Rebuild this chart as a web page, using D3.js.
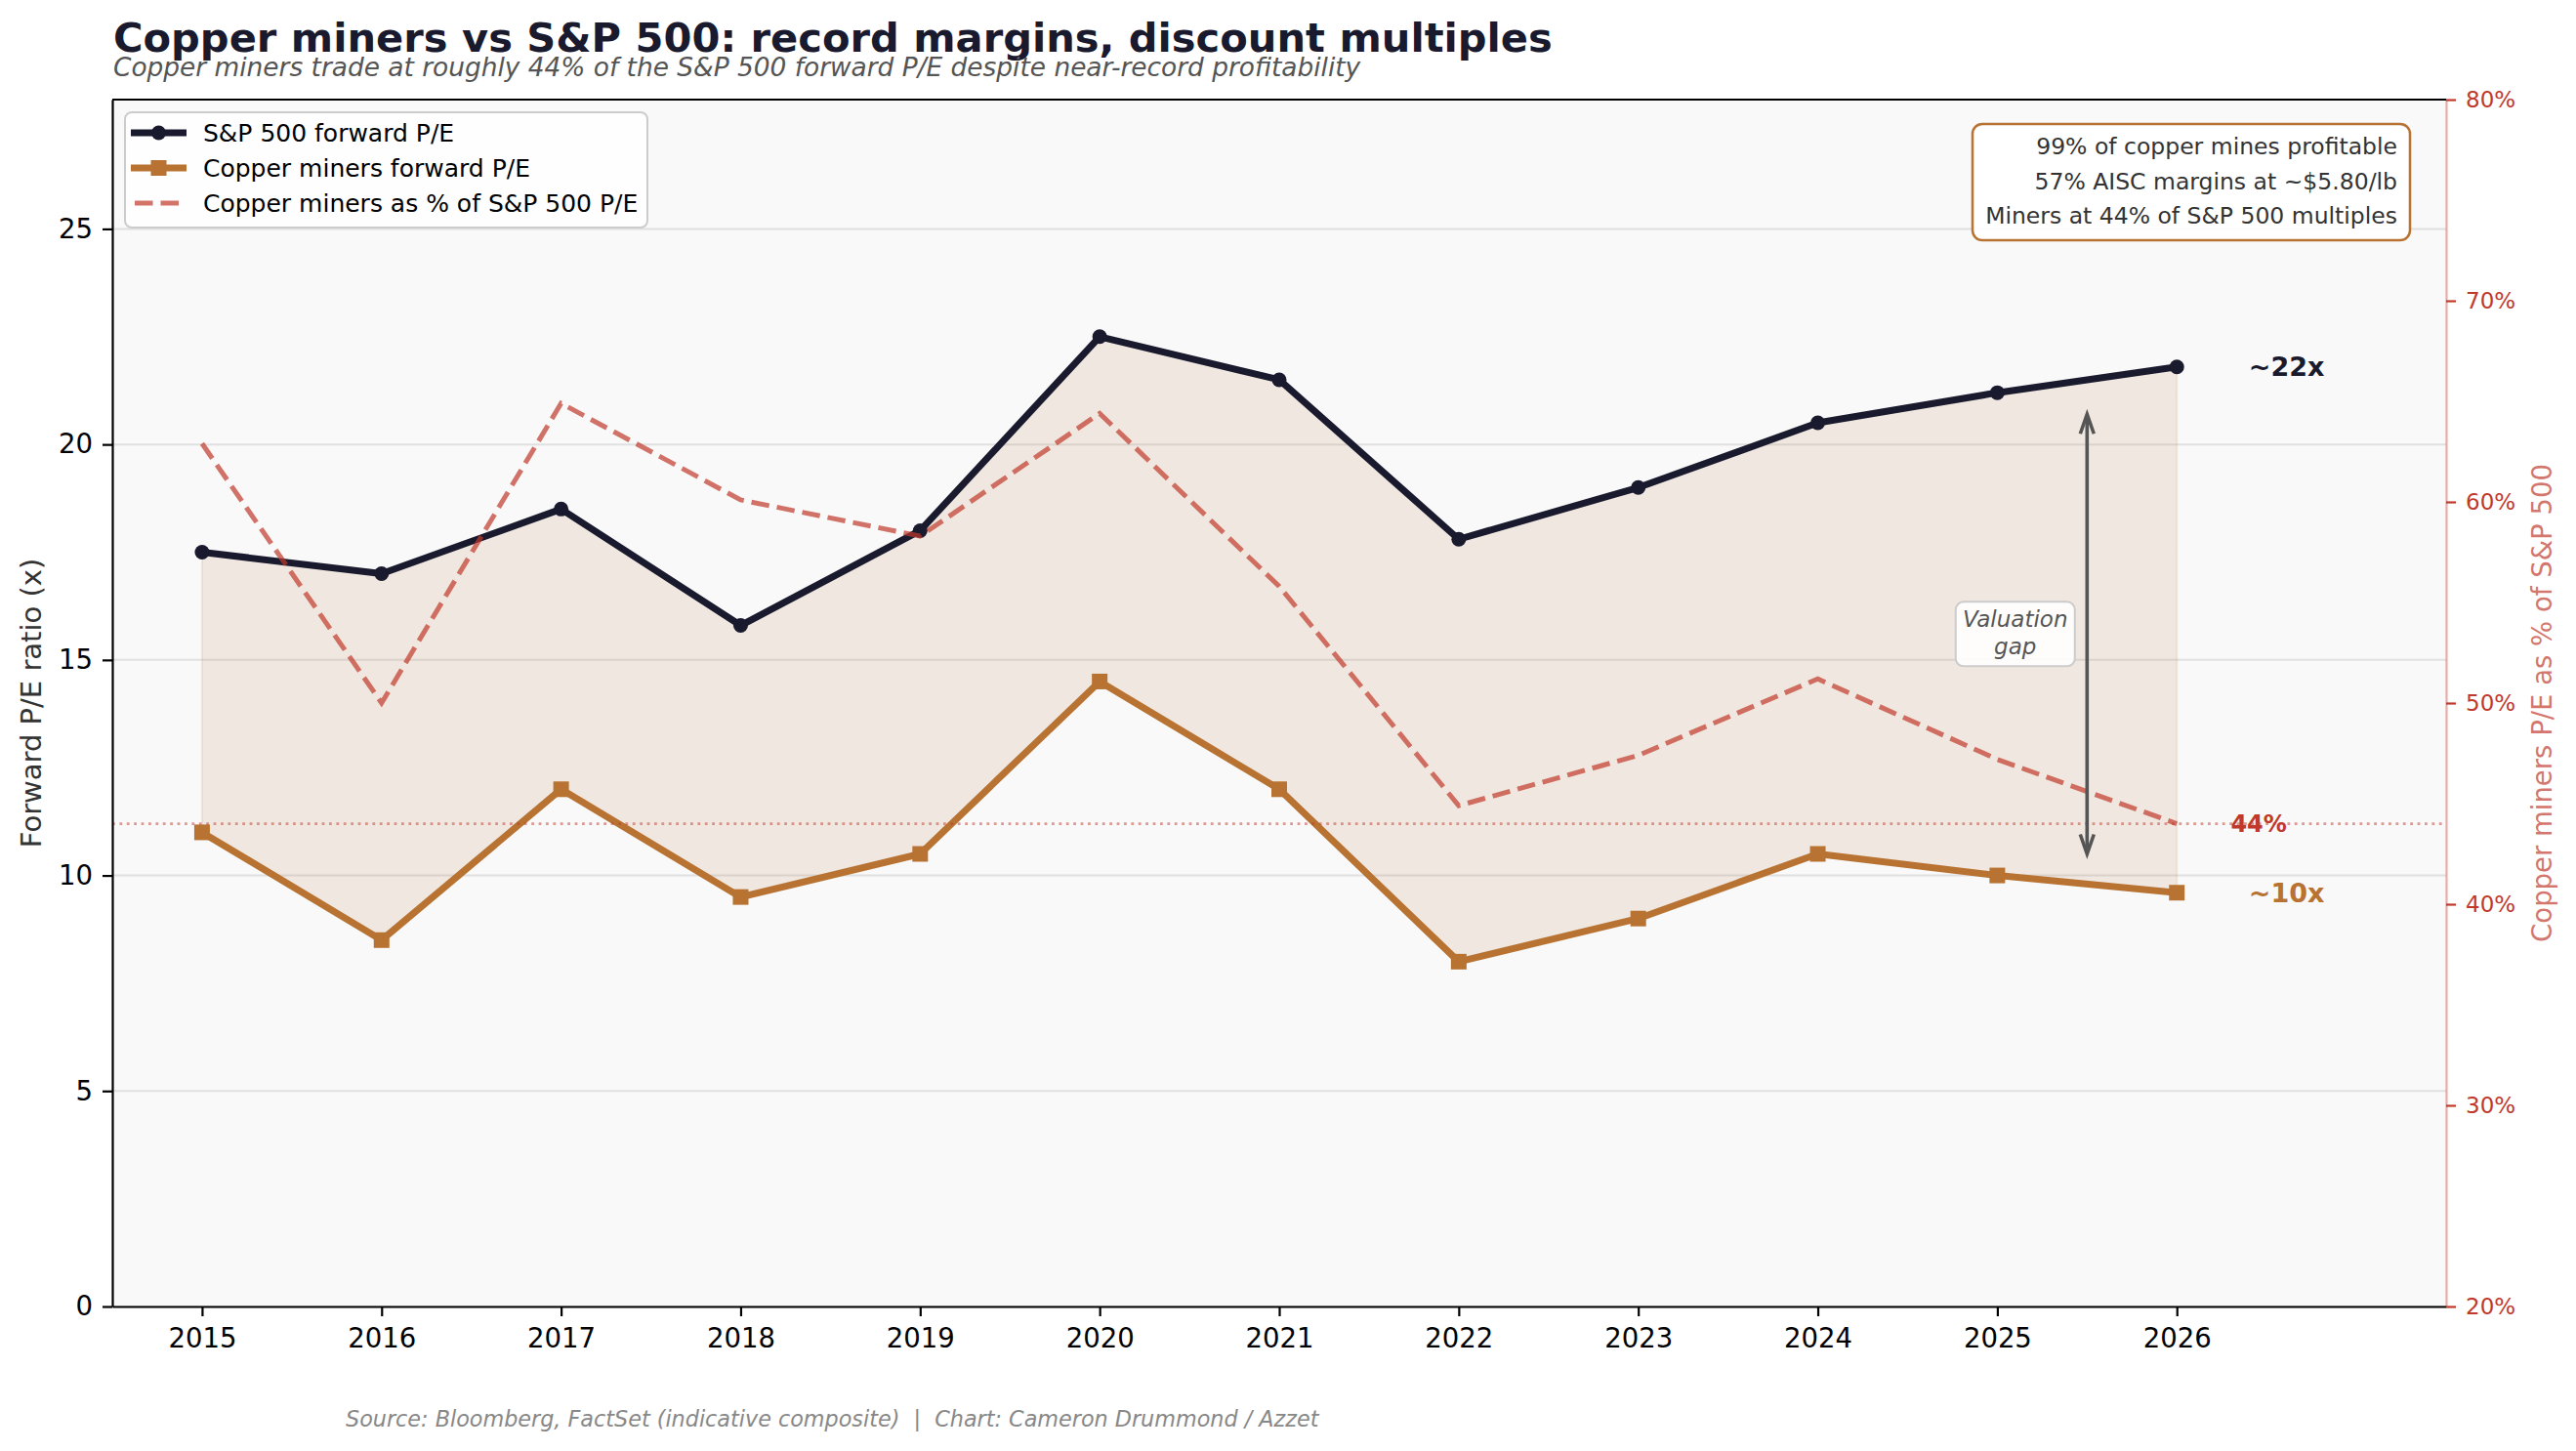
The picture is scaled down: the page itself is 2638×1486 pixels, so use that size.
<!DOCTYPE html>
<html>
<head>
<meta charset="utf-8">
<script src="https://cdn.jsdelivr.net/npm/d3@7"></script>
<style>
  body { margin: 0; background: #fff; }
  svg { display: block; font-family: "DejaVu Sans", sans-serif; }
  text { white-space: pre; }
</style>
</head>
<body>
<div id="chart"></div>
<script>
// values
const years = [2015, 2016, 2017, 2018, 2019, 2020, 2021, 2022, 2023, 2024, 2025, 2026];
const spPE = [17.5, 17.0, 18.5, 15.8, 18.0, 22.5, 21.5, 17.8, 19.0, 20.5, 21.2, 21.8];
const minersPE = [11.0, 8.5, 12.0, 9.5, 10.5, 14.5, 12.0, 8.0, 9.0, 10.5, 10.0, 9.6];
const ratioPct = [62.9, 50.0, 64.9, 60.1, 58.3, 64.4, 55.8, 44.9, 47.4, 51.2, 47.2, 44.0];
const leftTicks = [0, 5, 10, 15, 20, 25];
const rightTicks = [20, 30, 40, 50, 60, 70, 80];
const currentRatio = 44;
const infoLines = [
  "99% of copper mines profitable",
  "57% AISC margins at ~$5.80/lb",
  "Miners at 44% of S&P 500 multiples"
];
const legendItems = [
  { label: "S&P 500 forward P/E", key: "sp" },
  { label: "Copper miners forward P/E", key: "miners" },
  { label: "Copper miners as % of S&P 500 P/E", key: "ratio" }
];

const W = 2638, H = 1486;
const plot = { left: 115, right: 2505, top: 102, bottom: 1338 };
const navy = "#1a1a2e", copper = "#b87333", red = "#c0392b";

const svg = d3.select("#chart").append("svg")
  .attr("width", W).attr("height", H);

const x = d3.scaleLinear().domain([2014.5, 2027.5]).range([plot.left, plot.right]);
const y = d3.scaleLinear().domain([0, 28]).range([plot.bottom, plot.top]);
const y2 = d3.scaleLinear().domain([20, 80]).range([plot.bottom, plot.top]);

// plot background
svg.append("rect")
  .attr("x", plot.left).attr("y", plot.top)
  .attr("width", plot.right - plot.left).attr("height", plot.bottom - plot.top)
  .attr("fill", "#f9f9f9");

// horizontal grid
svg.append("g").selectAll("line")
  .data(leftTicks)
  .join("line")
  .attr("x1", plot.left).attr("x2", plot.right)
  .attr("y1", d => y(d)).attr("y2", d => y(d))
  .attr("stroke", "#e0e0e0").attr("stroke-width", 2);

const rows = years.map((yr, i) => ({ yr, sp: spPE[i], mi: minersPE[i], r: ratioPct[i] }));

// valuation gap band
svg.append("path")
  .datum(rows)
  .attr("d", d3.area().x(d => x(d.yr)).y0(d => y(d.mi)).y1(d => y(d.sp)))
  .attr("fill", copper).attr("fill-opacity", 0.12)
  .attr("stroke", copper).attr("stroke-opacity", 0.12).attr("stroke-width", 2);

// S&P line
svg.append("path")
  .datum(rows)
  .attr("d", d3.line().x(d => x(d.yr)).y(d => y(d.sp)))
  .attr("fill", "none").attr("stroke", navy).attr("stroke-width", 7)
  .attr("stroke-linejoin", "round");

svg.append("g").selectAll("circle")
  .data(rows)
  .join("circle")
  .attr("cx", d => x(d.yr)).attr("cy", d => y(d.sp))
  .attr("r", 7.5).attr("fill", navy);

// miners line
svg.append("path")
  .datum(rows)
  .attr("d", d3.line().x(d => x(d.yr)).y(d => y(d.mi)))
  .attr("fill", "none").attr("stroke", copper).attr("stroke-width", 7)
  .attr("stroke-linejoin", "round");

svg.append("g").selectAll("rect")
  .data(rows)
  .join("rect")
  .attr("x", d => x(d.yr) - 8).attr("y", d => y(d.mi) - 8)
  .attr("width", 16).attr("height", 16).attr("fill", copper);

// 44% reference line (right axis)
svg.append("line")
  .attr("x1", plot.left).attr("x2", plot.right)
  .attr("y1", y2(currentRatio)).attr("y2", y2(currentRatio))
  .attr("stroke", red).attr("stroke-opacity", 0.5)
  .attr("stroke-width", 2.8).attr("stroke-dasharray", "2.8,4.6");

// ratio line (right axis)
svg.append("path")
  .datum(rows)
  .attr("d", d3.line().x(d => x(d.yr)).y(d => y2(d.r)))
  .attr("fill", "none").attr("stroke", red).attr("stroke-opacity", 0.7)
  .attr("stroke-width", 5).attr("stroke-dasharray", "18.5,8");

// axes
const xAxis = svg.append("g")
  .attr("transform", `translate(0,${plot.bottom})`)
  .call(d3.axisBottom(x).tickValues(years).tickFormat(d3.format("d"))
    .tickSize(10).tickSizeOuter(0).tickPadding(12));
xAxis.selectAll("text").attr("font-size", 27.5).attr("fill", "#000");

const yAxis = svg.append("g")
  .attr("transform", `translate(${plot.left},0)`)
  .call(d3.axisLeft(y).tickValues(leftTicks).tickSize(10).tickSizeOuter(0).tickPadding(10));
yAxis.selectAll("text").attr("font-size", 27.5).attr("fill", "#000");

const yAxis2 = svg.append("g")
  .attr("transform", `translate(${plot.right},0)`)
  .attr("color", red)
  .call(d3.axisRight(y2).tickValues(rightTicks).tickFormat(d => d + "%")
    .tickSize(10).tickSizeOuter(0).tickPadding(10));
yAxis2.selectAll("text").attr("font-size", 23);
yAxis2.select(".domain").attr("stroke-opacity", 0.4);

[xAxis, yAxis, yAxis2].forEach(g => {
  g.selectAll(".tick line").attr("stroke-width", 2.2);
  g.select(".domain").attr("stroke-width", 2.2);
  g.attr("font-family", null);
});

// top spine
svg.append("line")
  .attr("x1", plot.left).attr("x2", plot.right)
  .attr("y1", plot.top).attr("y2", plot.top)
  .attr("stroke", "#000").attr("stroke-width", 2.2);

// axis labels
svg.append("text")
  .attr("transform", `translate(42,${(plot.top + plot.bottom) / 2}) rotate(-90)`)
  .attr("text-anchor", "middle")
  .attr("font-size", 29).attr("fill", "#333")
  .text("Forward P/E ratio (x)");

svg.append("text")
  .attr("transform", `translate(2613,${(plot.top + plot.bottom) / 2}) rotate(-90)`)
  .attr("text-anchor", "middle")
  .attr("font-size", 27.5).attr("fill", red).attr("fill-opacity", 0.7)
  .text("Copper miners P/E as % of S&P 500");

// end labels
const last = years.length - 1;
svg.append("text")
  .attr("x", x(2026.4)).attr("y", y(spPE[last])).attr("dy", "0.36em")
  .attr("font-size", 27).attr("font-weight", "bold").attr("fill", navy)
  .text("~22x");
svg.append("text")
  .attr("x", x(2026.4)).attr("y", y(minersPE[last])).attr("dy", "0.36em")
  .attr("font-size", 27).attr("font-weight", "bold").attr("fill", copper)
  .text("~10x");
svg.append("text")
  .attr("x", x(2026.3)).attr("y", y2(currentRatio)).attr("dy", "0.36em")
  .attr("font-size", 24).attr("font-weight", "bold").attr("fill", red)
  .text("44%");

// valuation gap arrow
const ax = x(2025.5), aTop = y(20.7), aBot = y(10.5);
svg.append("line")
  .attr("x1", ax).attr("x2", ax).attr("y1", aTop + 2).attr("y2", aBot - 2)
  .attr("stroke", "#555").attr("stroke-width", 3.6);
[[aTop, 1], [aBot, -1]].forEach(([yy, s]) => {
  svg.append("path")
    .attr("d", `M${ax - 7},${yy + s * 20} L${ax},${yy} L${ax + 7},${yy + s * 20}`)
    .attr("fill", "none").attr("stroke", "#555").attr("stroke-width", 3.6)
    .attr("stroke-linejoin", "miter");
});

const gapX = x(2025.1), gapY = y(15.6);
svg.append("rect")
  .attr("x", gapX - 61).attr("y", gapY - 33).attr("width", 122).attr("height", 66)
  .attr("rx", 8).attr("fill", "#fff").attr("fill-opacity", 0.9)
  .attr("stroke", "#ccc").attr("stroke-width", 2);
svg.append("text")
  .attr("x", gapX).attr("y", gapY - 7)
  .attr("text-anchor", "middle").attr("font-size", 23)
  .attr("font-style", "italic").attr("fill", "#555")
  .selectAll("tspan").data(["Valuation", "gap"]).join("tspan")
  .attr("x", gapX).attr("dy", (d, i) => i ? 28 : 0)
  .text(d => d);

// legend
const lg = svg.append("g");
lg.append("rect")
  .attr("x", 128).attr("y", 115).attr("width", 535).attr("height", 118)
  .attr("rx", 7).attr("fill", "#fff").attr("fill-opacity", 0.85)
  .attr("stroke", "#ccc").attr("stroke-width", 2);
legendItems.forEach((item, i) => {
  const cy = 136 + i * 36;
  const g = lg.append("g");
  if (item.key === "ratio") {
    g.append("line").attr("x1", 135).attr("x2", 191).attr("y1", cy).attr("y2", cy)
      .attr("stroke", red).attr("stroke-opacity", 0.7).attr("stroke-width", 5)
      .attr("stroke-dasharray", "18.5,8").attr("stroke-dashoffset", -3);
  } else {
    const c = item.key === "sp" ? navy : copper;
    g.append("line").attr("x1", 134).attr("x2", 191).attr("y1", cy).attr("y2", cy)
      .attr("stroke", c).attr("stroke-width", 7);
    if (item.key === "sp") {
      g.append("circle").attr("cx", 162.5).attr("cy", cy).attr("r", 7.5).attr("fill", c);
    } else {
      g.append("rect").attr("x", 154.5).attr("y", cy - 8).attr("width", 16).attr("height", 16).attr("fill", c);
    }
  }
  g.append("text").attr("x", 208).attr("y", cy).attr("dy", "0.36em")
    .attr("font-size", 25).attr("fill", "#000").text(item.label);
});

// info box
svg.append("rect")
  .attr("x", 2020).attr("y", 127).attr("width", 448).attr("height", 119)
  .attr("rx", 10).attr("fill", "#fff").attr("fill-opacity", 0.9)
  .attr("stroke", copper).attr("stroke-width", 2.5);
svg.append("g").selectAll("text")
  .data(infoLines)
  .join("text")
  .attr("x", 2455).attr("y", (d, i) => 158 + i * 35.5)
  .attr("text-anchor", "end").attr("font-size", 23.5).attr("fill", "#333")
  .text(d => d);

// titles
svg.append("text")
  .attr("x", 116).attr("y", 53)
  .attr("font-size", 41.6).attr("font-weight", "bold").attr("fill", navy)
  .text("Copper miners vs S&P 500: record margins, discount multiples");
svg.append("text")
  .attr("x", 116).attr("y", 78)
  .attr("font-size", 26.4).attr("font-style", "italic").attr("fill", "#555")
  .text("Copper miners trade at roughly 44% of the S&P 500 forward P/E despite near-record profitability");

// source
svg.append("text")
  .attr("x", 354).attr("y", 1461)
  .attr("font-size", 22.3).attr("font-style", "italic").attr("fill", "#888")
  .text("Source: Bloomberg, FactSet (indicative composite)  |  Chart: Cameron Drummond / Azzet");
</script>
</body>
</html>
